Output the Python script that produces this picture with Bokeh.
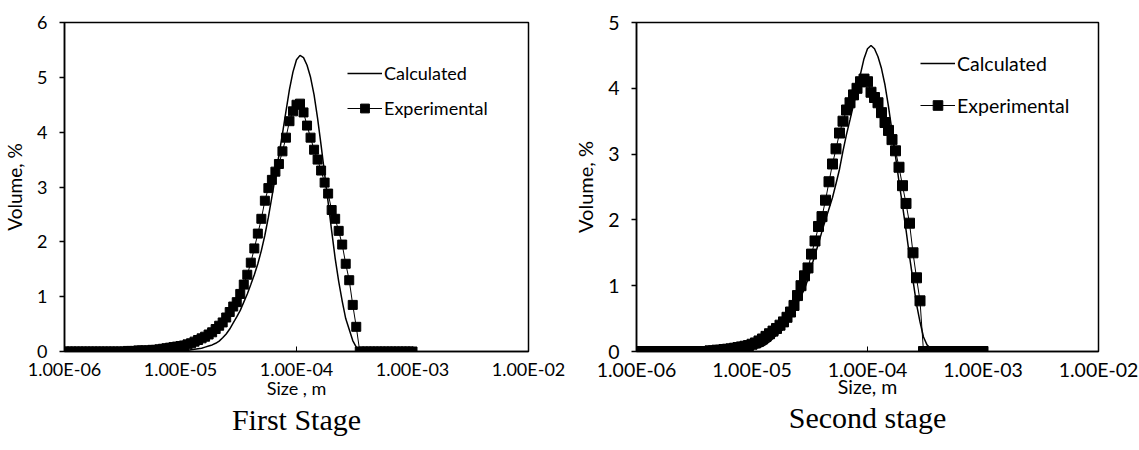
import numpy as np
from bokeh.plotting import figure
from bokeh.layouts import row
from bokeh.models import (FixedTicker, CustomJSTickFormatter, Legend, LegendItem,
                          Title, Range1d)
from bokeh.embed import file_html
from bokeh.resources import INLINE

# particle size classes, m (100 log-spaced classes from 1 um to 1 mm)
size_m = np.logspace(-6, -3, 100)

# First stage, volume %
first_calculated = (
    [0.0] * 30
    + [0.0, 0.01, 0.01, 0.01, 0.02, 0.02, 0.03, 0.04, 0.05, 0.06, 0.08, 0.10]
    + [0.12, 0.15, 0.19, 0.25, 0.32, 0.41, 0.52, 0.63, 0.75, 0.90, 1.05, 1.22]
    + [1.40, 1.60, 1.84, 2.12, 2.45, 2.82, 3.20, 3.58, 3.97, 4.38, 4.78, 5.10]
    + [5.32, 5.40, 5.36, 5.22, 5.00, 4.68, 4.25, 3.76, 3.24, 2.72, 2.20, 1.70]
    + [1.28, 0.92, 0.60, 0.40, 0.20, 0.08, 0.01, 0.0, 0.0, 0.0, 0.0, 0.0]
    + [0.0] * 10
)
first_experimental = (
    [0.0] * 18
    + [0.01, 0.01, 0.01, 0.02, 0.02, 0.02]
    + [0.02, 0.03, 0.03, 0.04, 0.05, 0.06, 0.07, 0.08, 0.09, 0.10, 0.11, 0.13]
    + [0.15, 0.18, 0.21, 0.24, 0.27, 0.31, 0.35, 0.41, 0.47, 0.53, 0.62, 0.72]
    + [0.82, 0.90, 1.05, 1.22, 1.40, 1.62, 1.88, 2.15, 2.42, 2.75, 2.98, 3.13]
    + [3.28, 3.42, 3.65, 3.90, 4.20, 4.38, 4.50, 4.52, 4.36, 4.12, 3.90, 3.68]
    + [3.50, 3.30, 3.08, 2.88, 2.58, 2.42, 2.20, 1.95, 1.60, 1.30, 0.85, 0.45]
    + [0.0] * 16
)

# Second stage, volume %
second_calculated = (
    [0.0] * 28
    + [0.01, 0.01, 0.02, 0.02, 0.03, 0.04, 0.05, 0.06, 0.08, 0.11, 0.15, 0.20]
    + [0.25, 0.29, 0.35, 0.44, 0.55, 0.64, 0.73, 0.84, 0.95, 1.10, 1.29, 1.47]
    + [1.64, 1.83, 2.00, 2.17, 2.34, 2.55, 2.77, 3.05, 3.30, 3.52, 3.75, 3.98]
    + [4.22, 4.45, 4.60, 4.65, 4.60, 4.48, 4.30, 4.05, 3.72, 3.35, 2.97, 2.58]
    + [2.22, 1.85, 1.45, 1.08, 0.72, 0.45, 0.22, 0.10, 0.05, 0.01, 0.0, 0.0]
    + [0.0] * 12
)
second_experimental = (
    [0.0] * 21
    + [0.01, 0.01, 0.02, 0.02, 0.03, 0.035, 0.04, 0.05, 0.06, 0.07, 0.08, 0.09]
    + [0.11, 0.13, 0.16, 0.19, 0.23, 0.27, 0.31, 0.35, 0.40, 0.45, 0.52, 0.60]
    + [0.70, 0.85, 1.00, 1.15, 1.27, 1.48, 1.68, 1.90, 2.05, 2.30, 2.58, 2.85]
    + [3.08, 3.32, 3.50, 3.67, 3.78, 3.90, 4.00, 4.10, 4.14, 4.10, 3.94, 3.86]
    + [3.78, 3.63, 3.48, 3.36, 3.22, 3.05, 2.80, 2.52, 2.25, 1.95, 1.50, 1.12]
    + [0.77]
    + [0.0] * 18
)

x_ticks = [1e-6, 1e-5, 1e-4, 1e-3, 1e-2]

SANS = "Lato"


def make_panel(width, calc, exp, y_max, x_label, caption, font_px, title_px,
               marker_size, border_left, border_right, legend_loc,
               legend_glyph_h, legend_spacing, xlabel_standoff, caption_standoff):
    p = figure(width=width, height=450, x_axis_type="log",
               x_range=Range1d(1e-6, 1e-2), y_range=Range1d(0, y_max),
               output_backend="svg", toolbar_location=None,
               min_border_left=border_left, min_border_right=border_right,
               min_border_top=22, min_border_bottom=99,
               background_fill_color="white", border_fill_color="white")
    p.grid.visible = False
    p.outline_line_color = "black"
    p.outline_line_width = 1.5
    p.outline_line_alpha = 1.0

    calc_r = p.line(size_m, calc, line_color="black", line_width=1.5)
    exp_line = p.line(size_m, exp, line_color="black", line_width=1)
    exp_pts = p.scatter(size_m, exp, marker="square", size=marker_size,
                        fill_color="black", line_color="black")

    xa = p.xaxis[0]
    xa.ticker = FixedTicker(ticks=x_ticks, minor_ticks=[])
    xa.formatter = CustomJSTickFormatter(code="""
        const e = Math.round(-Math.log10(tick));
        return "1.00E-" + (e < 10 ? "0" + e : String(e));
    """)
    xa.major_tick_in = 5
    xa.major_tick_out = 0
    xa.minor_tick_in = 0
    xa.minor_tick_out = 0
    xa.axis_line_width = 1.5
    xa.major_tick_line_width = 1
    xa.major_label_standoff = 6
    xa.axis_label = x_label
    xa.axis_label_standoff = xlabel_standoff

    ya = p.yaxis[0]
    ya.ticker = FixedTicker(ticks=list(range(0, y_max + 1)), minor_ticks=[])
    ya.major_tick_in = 0
    ya.major_tick_out = 5
    ya.minor_tick_in = 0
    ya.minor_tick_out = 0
    ya.axis_line_width = 1.5
    ya.major_tick_line_width = 1.5
    ya.major_label_standoff = 12
    ya.axis_label = "Volume, %"
    ya.axis_label_standoff = 8

    for ax in (xa, ya):
        ax.major_label_text_font = SANS
        ax.major_label_text_font_size = f"{font_px}px"
        ax.major_label_text_color = "black"
        ax.axis_label_text_font = SANS
        ax.axis_label_text_font_size = f"{font_px}px"
        ax.axis_label_text_font_style = "normal"
        ax.axis_label_text_color = "black"
    ya.axis_label_text_font_size = f"{title_px}px"

    legend = Legend(items=[LegendItem(label="Calculated", renderers=[calc_r]),
                           LegendItem(label="Experimental", renderers=[exp_line, exp_pts])],
                    location=legend_loc, orientation="vertical",
                    border_line_color=None, background_fill_alpha=0,
                    padding=0, margin=0, glyph_width=35,
                    glyph_height=legend_glyph_h, label_height=legend_glyph_h,
                    label_standoff=2, spacing=legend_spacing,
                    label_text_font=SANS, label_text_font_size=f"{font_px}px",
                    label_text_color="black")
    p.add_layout(legend)

    p.add_layout(Title(text=caption, align="center", text_font="Liberation Serif",
                       text_font_size="30px", text_font_style="normal",
                       text_color="black", standoff=caption_standoff), "below")
    return p


left = make_panel(570, first_calculated, first_experimental, 6, "Size , m",
                  "First Stage", 18, 19, 9, 64, 42, (283, 232), 22, 13, -6, -1)
right = make_panel(569, second_calculated, second_experimental, 5, "Size, m",
                   "Second stage", 19.5, 20, 10, 63, 41, (284, 234), 24, 18, -9, -3)

layout = row(left, right)
open("out.html", "w").write(file_html(layout, INLINE))
